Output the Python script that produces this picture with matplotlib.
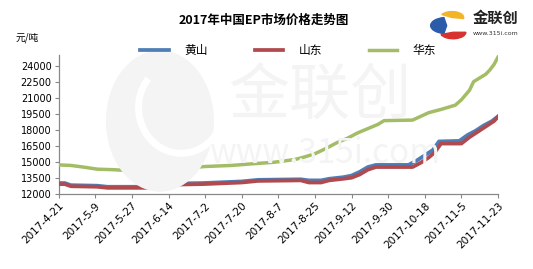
import matplotlib
matplotlib.use('Agg')
import matplotlib.pyplot as plt
from matplotlib.patches import Ellipse, Wedge, Arc
import pandas as pd

plt.rcParams['font.family'] = ['Noto Sans CJK SC', 'DejaVu Sans']

# 黄山
hs_dates = ['04-21', '04-24', '04-27', '05-10', '05-15', '06-12', '06-16', '07-01', '07-20',
            '07-28', '08-18', '08-22', '08-28', '09-01', '09-08', '09-12', '09-16', '09-20',
            '09-24', '10-10', '10-14', '10-18', '10-22', '10-25', '11-04', '11-08', '11-12',
            '11-16', '11-20', '11-23']
hs_vals = [13000, 13000, 12800, 12750, 12650, 12650, 12950, 13000, 13150,
           13300, 13350, 13250, 13250, 13400, 13550, 13700, 14050, 14500,
           14700, 14700, 15100, 15600, 16100, 16900, 16950, 17500, 17900,
           18400, 18800, 19250]

# 山东
sd_dates = ['04-21', '04-24', '04-27', '05-10', '05-15', '06-12', '06-16', '07-01', '07-20',
            '07-28', '08-18', '08-22', '08-28', '09-01', '09-08', '09-12', '09-16', '09-20',
            '09-24', '10-12', '10-16', '10-20', '10-23', '10-26', '11-05', '11-09', '11-13',
            '11-17', '11-21', '11-23']
sd_vals = [12900, 12900, 12700, 12650, 12550, 12550, 12850, 12900, 13050,
           13200, 13250, 13050, 13050, 13250, 13400, 13500, 13800, 14250,
           14500, 14500, 14900, 15400, 15900, 16700, 16700, 17300, 17800,
           18300, 18800, 19200]

# 华东
hd_dates = ['04-21', '04-27', '05-03', '05-10', '05-18', '05-27', '06-05', '06-12', '06-16',
            '06-22', '07-02', '07-15', '07-25', '08-05', '08-15', '08-20', '08-25', '08-30',
            '09-05', '09-10', '09-15', '09-20', '09-25', '09-28', '10-12', '10-16', '10-20',
            '10-26', '11-02', '11-05', '11-09', '11-11', '11-17', '11-19', '11-21', '11-23']
hd_vals = [14700, 14650, 14500, 14300, 14250, 14150, 14050, 14050, 14300,
           14400, 14550, 14650, 14800, 14950, 15200, 15450, 15750, 16200,
           16800, 17200, 17700, 18100, 18500, 18850, 18900, 19250, 19600,
           19900, 20300, 20800, 21700, 22500, 23200, 23600, 24100, 24800]

yticks = [12000, 13500, 15000, 16500, 18000, 19500, 21000, 22500, 24000]


def to_dt(ds):
    return pd.to_datetime(['2017-' + d for d in ds])


fig = plt.figure(figsize=(5.33, 2.69), dpi=100, facecolor='white')

# watermark
wm = '#f4f4f4'
fig.patches.append(Ellipse((0.30, 0.55), 0.20, 0.52, transform=fig.transFigure,
                           color=wm, zorder=0))
fig.patches.append(Arc((0.34, 0.60), 0.16, 0.34, theta1=120, theta2=330,
                       transform=fig.transFigure, color='white', lw=5, zorder=0))
fig.text(0.60, 0.64, '金联创', fontsize=44, color=wm, ha='center', va='center', zorder=0)
fig.text(0.61, 0.43, 'www.315i.com', fontsize=24, color=wm, ha='center', va='center',
         zorder=0)

ax = fig.add_axes([0.1101, 0.2799, 0.8242, 0.5156])
ax.patch.set_alpha(0)

ax.plot(to_dt(hs_dates), hs_vals, color='#4f7db5', lw=2.7, label='黄山', zorder=3)
ax.plot(to_dt(sd_dates), sd_vals, color='#b04a4e', lw=2.7, label='山东', zorder=4)
ax.plot(to_dt(hd_dates), hd_vals, color='#a3bd66', lw=2.5, label='华东', zorder=5)

start = pd.Timestamp('2017-04-21')
end = pd.Timestamp('2017-11-23')
ax.set_xlim(start, end)
ax.set_ylim(12000, 25000)
ax.set_yticks(yticks)
ax.set_yticklabels([str(v) for v in yticks], fontsize=7, family='DejaVu Sans')

xt = pd.date_range(start, end, freq='18D')
ax.set_xticks(xt)
ax.set_xticklabels(['%d-%d-%d' % (d.year, d.month, d.day) for d in xt],
                   fontsize=7.5, family='DejaVu Sans', rotation=45, ha='right',
                   va='top', rotation_mode='anchor')

for s in ['top', 'right']:
    ax.spines[s].set_visible(False)
for s in ['left', 'bottom']:
    ax.spines[s].set_color('#888888')
    ax.spines[s].set_linewidth(0.9)
ax.tick_params(axis='both', color='#888888', length=3, width=0.8, pad=2)

leg = fig.legend(loc='center', bbox_to_anchor=(0.541, 0.812), ncol=3, frameon=False,
                 fontsize=8.5, handlelength=2.4, handletextpad=1.3, columnspacing=4.0)

fig.text(0.495, 0.925, '2017年中国EP市场价格走势图', fontsize=9, fontweight='bold',
         ha='center', va='center')
fig.text(0.03, 0.858, '元/吨', fontsize=7, ha='left', va='center')

# logo top-right
fig.patches.append(Wedge((0.838, 0.905), 0.030, 100, 260, transform=fig.transFigure,
                         color='#2a5caa', zorder=2))
fig.patches.append(Wedge((0.848, 0.935), 0.022, -10, 150, transform=fig.transFigure,
                         color='#f2b52a', zorder=2))
fig.patches.append(Wedge((0.850, 0.880), 0.024, 200, 360, transform=fig.transFigure,
                         color='#d8322f', zorder=2))
fig.text(0.930, 0.935, '金联创', fontsize=11, fontweight='bold', ha='center',
         va='center', color='#222222')
fig.text(0.930, 0.875, 'www.315i.com', fontsize=4.5, ha='center', va='center',
         color='#333333', family='DejaVu Sans')

fig.savefig('out.png', dpi=100, facecolor='white')
